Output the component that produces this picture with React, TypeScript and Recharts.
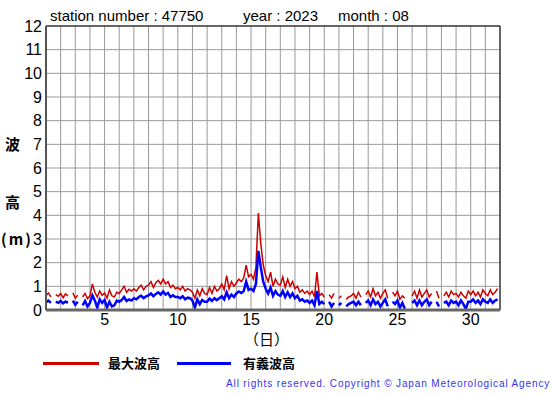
import React from "react";
import { LineChart, Line, XAxis, YAxis, CartesianGrid, ReferenceLine } from "recharts";

// 6 readings per day (00, 04, 08, 12, 16, 20 h), Aug 1 .. Aug 31; null = missing
const maxWave: (number | null)[] = [
  0.6, 0.72, 0.55, null, 0.65, 0.58, // 1
  0.7, 0.52, 0.68, 0.6, null, 0.73, // 2
  0.5, 0.62, null, 0.55, 0.7, 0.48, // 3
  0.6, 1.1, 0.75, 0.55, 0.8, 0.62, // 4
  0.72, 0.5, 0.85, 0.6, 0.55, 0.75, // 5
  0.7, 0.85, 1.0, 0.75, 0.88, 0.8, // 6
  0.9, 0.8, 0.95, 1.05, 0.85, 1.0, // 7
  1.05, 1.2, 0.95, 1.15, 1.25, 1.1, // 8
  1.3, 1.1, 1.2, 0.95, 1.05, 0.9, // 9
  0.95, 0.85, 1.0, 0.8, 0.9, 0.85, // 10
  0.75, 0.5, 0.85, 0.6, 0.9, 0.7, // 11
  0.65, 0.95, 0.7, 1.0, 0.8, 0.9, // 12
  1.1, 0.85, 1.45, 0.9, 1.2, 1.0, // 13
  1.15, 1.3, 1.2, 1.35, 1.9, 1.4, // 14
  1.5, 1.3, 1.8, 4.1, 2.8, 1.9, // 15
  1.45, 1.2, 1.6, 1.0, 1.3, 1.1, // 16
  1.05, 1.4, 0.95, 1.3, 1.0, 1.2, // 17
  0.9, 1.0, 0.75, 0.85, 0.7, 0.8, // 18
  0.65, 0.8, 0.55, 1.6, 0.6, 0.7, // 19
  0.55, null, 0.65, 0.5, 0.7, null, // 20
  0.5, 0.6, null, 0.45, 0.55, 0.6, // 21
  0.7, 0.5, 0.75, 0.55, null, 0.65, // 22
  0.8, 0.55, 0.9, 0.6, 0.75, 0.5, // 23
  0.7, 0.85, 0.5, null, 0.75, 0.6, // 24
  0.8, 0.45, 0.6, 0.5, null, null, // 25
  0.6, 0.8, 0.5, 0.85, 0.55, 0.7, // 26
  0.85, 0.55, 0.7, null, 0.8, 0.5, // 27
  null, 0.6, 0.75, 0.55, 0.8, 0.65, // 28
  0.7, 0.55, 0.75, 0.6, 0.5, 0.8, // 29
  0.65, 0.8, 0.6, 0.75, 0.55, 0.85, // 30
  0.7, 0.6, 0.85, 0.65, 0.75, 0.9, // 31
];

const sigWave: (number | null)[] = [
  0.32, 0.4, 0.3, null, 0.35, 0.3, // 1
  0.38, 0.28, 0.36, 0.3, null, 0.4, // 2
  0.22, 0.35, null, 0.2, 0.38, 0.15, // 3
  0.3, 0.62, 0.4, 0.1, 0.45, 0.3, // 4
  0.42, 0.1, 0.35, 0.15, 0.2, 0.4, // 5
  0.35, 0.42, 0.55, 0.38, 0.45, 0.4, // 6
  0.5, 0.45, 0.55, 0.6, 0.5, 0.58, // 7
  0.62, 0.7, 0.58, 0.68, 0.75, 0.65, // 8
  0.78, 0.65, 0.72, 0.55, 0.62, 0.55, // 9
  0.55, 0.5, 0.58, 0.45, 0.52, 0.5, // 10
  0.4, 0.1, 0.45, 0.25, 0.42, 0.35, // 11
  0.35, 0.48, 0.38, 0.5, 0.42, 0.5, // 12
  0.58, 0.45, 0.75, 0.5, 0.65, 0.55, // 13
  0.7, 0.78, 0.72, 0.8, 1.2, 0.85, // 14
  0.9, 0.8, 1.1, 2.5, 1.8, 1.2, // 15
  0.9, 0.7, 0.95, 0.6, 0.8, 0.65, // 16
  0.6, 0.8, 0.55, 0.75, 0.55, 0.7, // 17
  0.5, 0.6, 0.4, 0.45, 0.35, 0.4, // 18
  0.3, 0.4, 0.2, 0.8, 0.25, 0.35, // 19
  0.25, null, 0.35, 0.15, 0.3, null, // 20
  0.2, 0.3, null, 0.15, 0.25, 0.3, // 21
  0.35, 0.2, 0.35, 0.2, null, 0.3, // 22
  0.4, 0.2, 0.45, 0.25, 0.35, 0.15, // 23
  0.3, 0.45, 0.15, null, 0.35, 0.25, // 24
  0.4, 0.1, 0.3, 0.05, null, null, // 25
  0.3, 0.4, 0.2, 0.4, 0.2, 0.35, // 26
  0.45, 0.2, 0.35, null, 0.35, 0.15, // 27
  null, 0.3, 0.35, 0.2, 0.4, 0.3, // 28
  0.35, 0.2, 0.4, 0.25, 0.05, 0.35, // 29
  0.35, 0.45, 0.3, 0.4, 0.25, 0.45, // 30
  0.35, 0.3, 0.45, 0.3, 0.4, 0.45, // 31
];

const days = Array.from({ length: 32 }, (_, i) => i + 1);
const heights = [0, 1, 2, 3, 4, 5, 6, 7, 8, 9, 10, 11, 12];
const READS_PER_DAY = 6;

const data = maxWave.map((v, i) => ({
  t: 1 + i / READS_PER_DAY,
  max: v,
  sig: sigWave[i],
}));

const sans = "'Liberation Sans', Arial, sans-serif";
const jp = "'Noto Sans CJK JP', sans-serif";

const abs = (left: number, top: number, extra: React.CSSProperties = {}): React.CSSProperties => ({
  position: "absolute",
  left,
  top,
  whiteSpace: "pre",
  lineHeight: 1,
  ...extra,
});

export default function App() {
  return (
    <div style={{ position: "absolute", left: 0, top: 0, width: 555, height: 395, background: "#fff", overflow: "hidden" }}>
      <div style={abs(50, 8, { fontFamily: sans, fontSize: 15 })}>station number : 47750</div>
      <div style={abs(243, 8, { fontFamily: sans, fontSize: 15 })}>year : 2023</div>
      <div style={abs(338, 8, { fontFamily: sans, fontSize: 15 })}>month : 08</div>

      <LineChart
        width={555}
        height={395}
        data={data}
        margin={{ top: 26, right: 55, bottom: 65, left: 0 }}
        style={{ position: "absolute", left: 0, top: 0 }}
      >
        <CartesianGrid stroke="#999" strokeWidth={1} />
        <XAxis
          type="number"
          dataKey="t"
          domain={[1, 32]}
          ticks={days}
          interval={0}
          allowDataOverflow
          height={20}
          tickLine={false}
          tickSize={0}
          tickMargin={4}
          tickFormatter={(v: number) => (v % 5 === 0 ? String(v) : "")}
          tick={{ fill: "#000", fontSize: 16, fontFamily: sans }}
          axisLine={{ stroke: "#666", strokeWidth: 3 }}
        />
        <YAxis
          type="number"
          domain={[0, 12]}
          ticks={heights}
          interval={0}
          width={46}
          tickLine={false}
          tickSize={0}
          tickMargin={4}
          tick={{ fill: "#000", fontSize: 16, fontFamily: sans }}
          axisLine={{ stroke: "#555", strokeWidth: 2 }}
        />
        <ReferenceLine y={12} stroke="#000" strokeWidth={1} />
        <ReferenceLine x={32} stroke="#000" strokeWidth={1} />
        <Line
          dataKey="max"
          stroke="#cc0000"
          strokeWidth={1.5}
          dot={false}
          isAnimationActive={false}
          connectNulls={false}
        />
        <Line
          dataKey="sig"
          stroke="#0000ff"
          strokeWidth={2.5}
          dot={false}
          isAnimationActive={false}
          connectNulls={false}
        />
      </LineChart>

      <div style={abs(5, 136, { fontFamily: jp, fontSize: 15, fontWeight: "bold" })}>波</div>
      <div style={abs(5, 194, { fontFamily: jp, fontSize: 15, fontWeight: "bold" })}>高</div>
      <div style={abs(1, 231, { fontFamily: jp, fontSize: 15, fontWeight: "bold", letterSpacing: 2 })}>(m)</div>
      <div style={abs(244, 331, { fontFamily: jp, fontSize: 15 })}>（日）</div>

      <div style={{ position: "absolute", left: 43, top: 362, width: 56, height: 3, background: "#cc0000" }} />
      <div style={abs(108, 356, { fontFamily: jp, fontSize: 13, fontWeight: "bold" })}>最大波高</div>
      <div style={{ position: "absolute", left: 177, top: 362, width: 54, height: 3, background: "#0000ff" }} />
      <div style={abs(243, 356, { fontFamily: jp, fontSize: 13, fontWeight: "bold" })}>有義波高</div>

      <div style={abs(226, 379, { fontFamily: sans, fontSize: 10, letterSpacing: 0.87, color: "#3333ee" })}>
        All rights reserved. Copyright © Japan Meteorological Agency
      </div>
    </div>
  );
}
